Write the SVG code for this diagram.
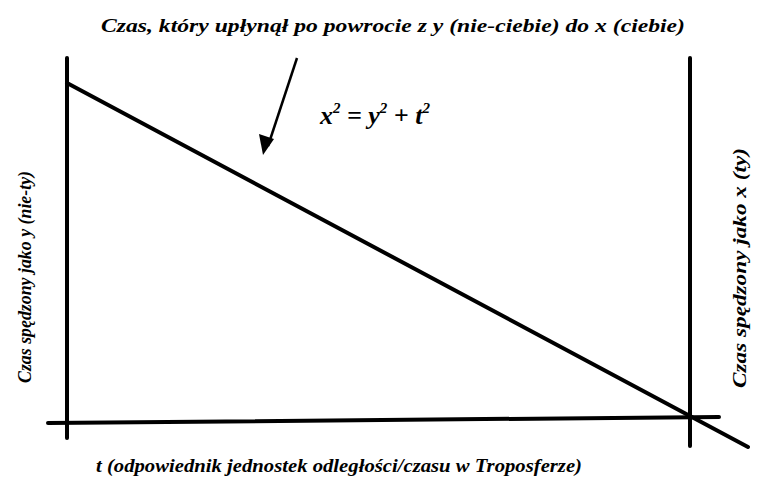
<svg xmlns="http://www.w3.org/2000/svg" width="758" height="484" viewBox="0 0 758 484">
<style>
.ln{stroke:#000;stroke-width:4;fill:none;stroke-linecap:round}
</style>
<rect width="758" height="484" fill="#fff"/>
<g id="axes">
<line class="ln" x1="67" y1="58" x2="67" y2="438"/>
<line class="ln" x1="690" y1="58" x2="690" y2="446"/>
<line class="ln" x1="48" y1="423" x2="719" y2="417"/>
<line class="ln" x1="67" y1="83" x2="748" y2="447"/>
</g>
<g id="connectors">
<line x1="297" y1="58" x2="268" y2="146" stroke="#000" stroke-width="2.5"/>
<path d="M263,155 L259,134 L274,139 z" fill="#000"/>
</g>
<text id="title" x="101" y="32" font-family="Liberation Serif, Noto Serif, DejaVu Serif, serif" font-style="italic" font-weight="bold" font-size="19" textLength="584" lengthAdjust="spacingAndGlyphs">Czas, który upłynął po powrocie z y (nie-ciebie) do x (ciebie)</text>
<text id="equation" x="320" y="124" font-family="Liberation Serif, Noto Serif, DejaVu Serif, serif" font-style="italic" font-weight="bold" font-size="26">x<tspan dy="-11" font-size="15">2</tspan><tspan dy="11"> = y</tspan><tspan dy="-11" font-size="15">2</tspan><tspan dy="11"> + t</tspan><tspan dy="-11" font-size="15">2</tspan></text>
<text id="leftlabel" transform="translate(31,383) rotate(-90)" font-family="Liberation Serif, Noto Serif, DejaVu Serif, serif" font-style="italic" font-weight="bold" font-size="19" textLength="212" lengthAdjust="spacingAndGlyphs">Czas spędzony jako y (nie-ty)</text>
<text id="rightlabel" transform="translate(746,388) rotate(-90)" font-family="Liberation Serif, Noto Serif, DejaVu Serif, serif" font-style="italic" font-weight="bold" font-size="19" textLength="240" lengthAdjust="spacingAndGlyphs">Czas spędzony jako x (ty)</text>
<text id="bottomlabel" x="96" y="472" font-family="Liberation Serif, Noto Serif, DejaVu Serif, serif" font-style="italic" font-weight="bold" font-size="19" textLength="486" lengthAdjust="spacingAndGlyphs">t (odpowiednik jednostek odległości/czasu w Troposferze)</text>
</svg>
